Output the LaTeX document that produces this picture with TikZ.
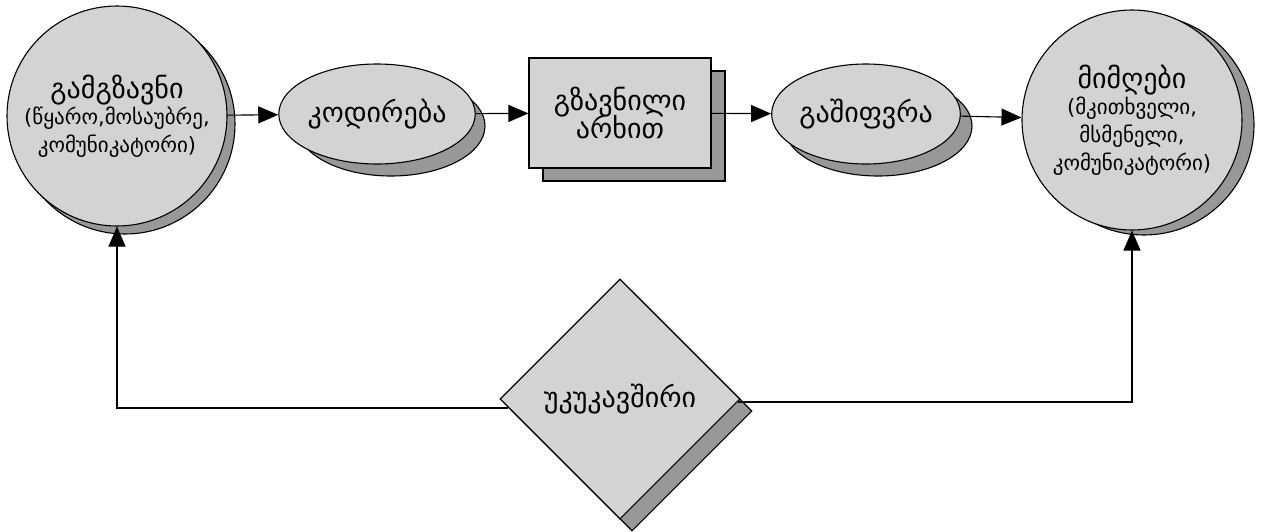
\documentclass[tikz,border=0pt]{standalone}
\usepackage{fontspec}
\newfontfamily\geo{DejaVu Sans}
\newcommand\subsz{\fontsize{21}{19}\selectfont}
\usetikzlibrary{shapes.geometric,arrows.meta,calc}
\definecolor{boxfill}{RGB}{211,211,211}
\definecolor{shadefill}{RGB}{152,152,152}
\tikzset{
  base/.style={draw=black, line width=1.1pt, inner sep=0pt, align=center, font=\geo\fontsize{28}{28}\selectfont},
  face/.style={base, fill=boxfill},
  shade/.style={base, fill=shadefill},
  roundbox/.style={circle, minimum size=220pt},
  ovalbox/.style={ellipse, minimum width=188pt, minimum height=100pt},
  rectbox/.style={rectangle, minimum width=182pt, minimum height=110pt},
  diabox/.style={diamond, minimum width=240pt, minimum height=240pt},
  arr/.style={draw=black, line width=1.1pt, -{Triangle[length=20pt,width=17pt]}}
}
\begin{document}
\begin{tikzpicture}[x=1pt, y=-1pt]
\useasboundingbox (0,0) rectangle (1262,531);

% drop shadows
\node[shade, roundbox] (srcS) at (125,124) {};
\node[shade, ovalbox]  (encS) at (391,126) {};
\node[shade, rectbox]  (chS)  at (634,126) {};
\node[shade, ovalbox]  (decS) at (878,126) {};
\node[shade, roundbox] (dstS) at (1144,125) {};
\node[shade, diabox]   (fbS)  at (632,411) {};

% main shapes
\node[face, roundbox] (src) at (117,116) {გამგზავნი\\[-2pt]{\subsz (წყარო,მოსაუბრე,}\\{\subsz კომუნიკატორი)}};
\node[face, ovalbox]  (enc) at (377,114) {კოდირება};
\node[face, rectbox]  (ch)  at (620,113) {გზავნილი\\[-3pt]არხით};
\node[face, ovalbox]  (dec) at (866,114) {გაშიფვრა};
\node[face, roundbox] (dst) at (1132,120) {მიმღები\\[-2pt]{\subsz (მკითხველი,}\\{\subsz მსმენელი,}\\{\subsz კომუნიკატორი)}};
\node[face, diabox]   (fb)  at (620,399) {უკუკავშირი};

% feedback leaves the diamond a little below its side corners
\coordinate (fbL) at ($(fb.west)!0.075!(fb.south)$);
\coordinate (fbR) at ($(fb.east)!0.025!(fb.south)$);

% connectors
\draw[arr] (src) -- (enc);
\draw[arr] (enc) -- (ch);
\draw[arr] (ch) -- (dec);
\draw[arr] (dec) -- (dst);
\draw[arr] (fbL) -| (src);
\draw[arr] (fbR) -| (dst);
\end{tikzpicture}
\end{document}
